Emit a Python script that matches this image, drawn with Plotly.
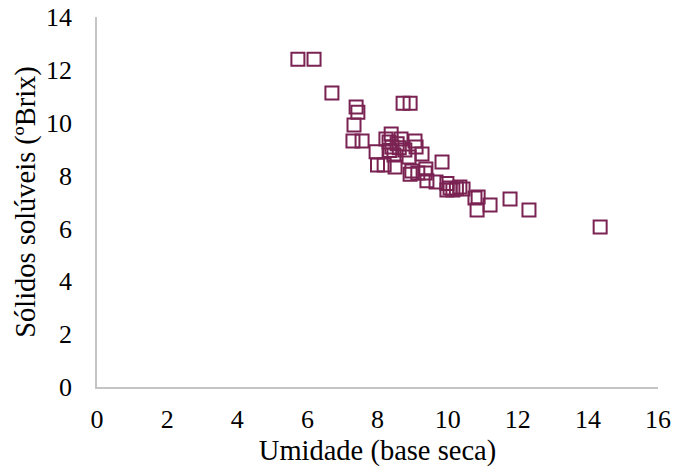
import plotly.graph_objects as go

# Moisture (dry basis) vs soluble solids (°Brix)
umidade = [5.73, 6.19, 6.70, 7.39, 7.44, 7.33, 7.30, 7.56, 8.73, 8.93,
           7.96, 8.00, 8.19, 8.24, 8.39, 8.33, 8.41, 8.47, 8.50, 8.67,
           9.07, 9.10, 9.27, 8.90, 8.98, 9.38, 9.84, 8.93, 9.36, 9.41,
           9.67, 9.98, 10.07, 10.35, 10.44, 8.78, 10.15, 9.98, 10.78, 10.84,
           10.87, 11.21, 11.78, 12.32, 14.35, 8.56, 8.62, 9.15, 10.25, 8.35]
brix = [12.40, 12.40, 11.12, 10.59, 10.40, 9.91, 9.31, 9.31, 10.74, 10.74,
        8.90, 8.40, 8.40, 9.38, 9.57, 9.27, 9.08, 8.78, 8.32, 9.38,
        9.31, 9.08, 8.82, 8.70, 8.17, 8.25, 8.51, 8.05, 8.10, 7.80,
        7.76, 7.70, 7.53, 7.57, 7.49, 8.97, 7.45, 7.45, 7.15, 6.70,
        7.19, 6.89, 7.11, 6.70, 6.05, 9.20, 9.05, 8.10, 7.50, 8.95]

x_ticks = [0, 2, 4, 6, 8, 10, 12, 14, 16]
y_ticks = [0, 2, 4, 6, 8, 10, 12, 14]

color = "#7a2352"
serif = "Times New Roman"
tick_font = dict(family=serif, size=26, color="#000000")
title_font = dict(family=serif, size=28.5, color="#000000")

fig = go.Figure(
    go.Scatter(
        x=umidade,
        y=brix,
        mode="markers",
        marker=dict(symbol="square-open", size=13, color=color,
                    line=dict(width=2, color=color)),
        showlegend=False,
    )
)

fig.update_layout(
    width=674,
    height=470,
    margin=dict(l=97, r=16, t=17, b=83, autoexpand=False),
    paper_bgcolor="white",
    plot_bgcolor="white",
    font=dict(family=serif, size=26, color="#000000"),
)

fig.update_xaxes(
    range=[0, 16], tickvals=x_ticks, automargin=True,
    showgrid=False, zeroline=False, showline=True,
    linecolor="#c4c4c4", linewidth=1.5, ticks="",
    ticklabelstandoff=8,
    tickfont=tick_font,
    title=dict(text="Umidade (base seca)", standoff=7, font=title_font),
)
fig.update_yaxes(
    range=[0, 14], tickvals=y_ticks, automargin=True,
    showgrid=False, zeroline=False, showline=True,
    linecolor="#c4c4c4", linewidth=1.5, ticks="",
    ticklabelstandoff=18,
    tickfont=tick_font,
    title=dict(text="Sólidos solúveis (ºBrix)", standoff=2, font=title_font),
)

fig.write_html("out.html")
